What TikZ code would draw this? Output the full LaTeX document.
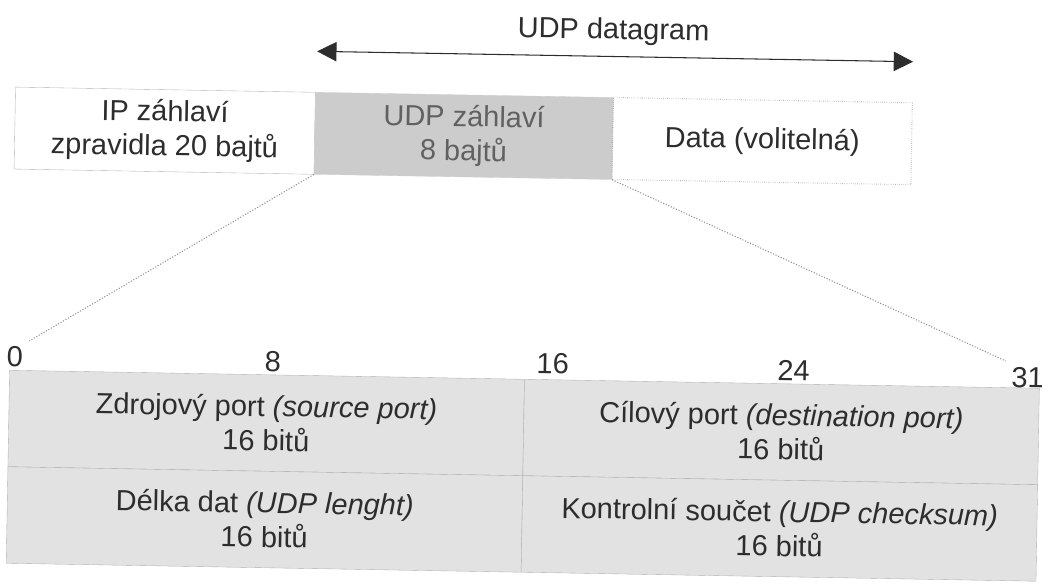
\documentclass[tikz,border=0pt]{standalone}
\usepackage{fontspec}
\setmainfont{Liberation Sans}
\usetikzlibrary{arrows.meta}
\definecolor{inkgray}{RGB}{45,45,45}
\definecolor{hdrgray}{RGB}{204,204,204}
\definecolor{cellgray}{RGB}{226,226,226}
\definecolor{rulegray}{RGB}{140,140,140}
\begin{document}
\begin{tikzpicture}[x=0.02cm,y=-0.02cm,
    lbl/.style={font=\fontsize{16.5}{19.5}\selectfont, text=inkgray, align=center},
    topbox/.style={lbl, minimum height=1.64cm, inner sep=0pt, draw=rulegray!70, very thin},
    cell/.style={lbl, fill=cellgray, draw=rulegray!70, very thin, minimum width=10.3cm, minimum height=1.93cm, inner sep=0pt},
    zoomline/.style={densely dotted, rulegray, semithick}]
  \useasboundingbox (0,0) rectangle (1051,584);
  \begin{scope}[rotate around={-1:(525,292)}, transform shape]
  % datagram arrow
  \coordinate (dgL) at (313,55);
  \coordinate (dgR) at (909,55);
  \draw[inkgray, semithick, {Triangle[length=11pt,width=11pt]}-{Triangle[length=11pt,width=11pt]}] (dgL) -- (dgR);
  \node[lbl] (dglabel) at (609,30) {UDP datagram};
  % encapsulation boxes
  \node[topbox, minimum width=6cm] (ip) at (162,137) {IP záhlaví\\zpravidla 20 bajtů};
  \node[topbox, minimum width=5.96cm, fill=hdrgray, draw=hdrgray, text=inkgray!75] (udp) at (461,137) {UDP záhlaví\\8 bajtů};
  \node[topbox, minimum width=5.98cm, draw=rulegray, densely dotted, semithick] (data) at (759.5,137) {Data (volitelná)};
  % header fields
  \node[cell] (src) at (268.5,427.5) {Zdrojový port \textit{(source port)}\\16 bitů};
  \node[cell] (dst) at (783.5,427.5) {Cílový port \textit{(destination port)}\\16 bitů};
  \node[cell] (len) at (268.5,524) {Délka dat \textit{(UDP lenght)}\\16 bitů};
  \node[cell] (sum) at (783.5,524) {Kontrolní součet \textit{(UDP checksum)}\\16 bitů};
  % bit numbers
  \node[lbl] (n0) at (16,366) {0};
  \node[lbl] (n8) at (274,366) {8};
  \node[lbl] (n16) at (554,363) {16};
  \node[lbl] (n24) at (795,366) {24};
  \node[lbl] (n31) at (1029,369) {31};
  \draw[zoomline] (udp.south west) -- (n0.north east);
  \draw[zoomline] (udp.south east) -- (n31.north west);
  \end{scope}
\end{tikzpicture}
\end{document}
